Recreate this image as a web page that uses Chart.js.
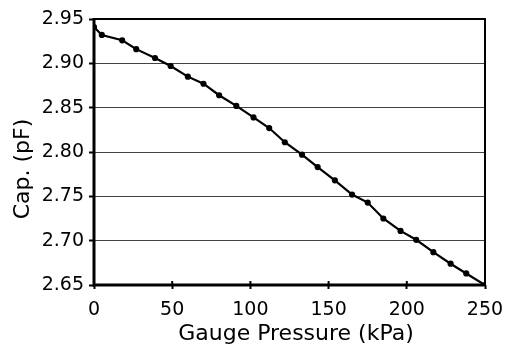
<!DOCTYPE html>
<html>
<head>
<meta charset="utf-8">
<script src="https://cdn.jsdelivr.net/npm/chart.js@4"></script>
<style>
  html, body { margin: 0; padding: 0; background: #fff; }
</style>
</head>
<body>
<canvas id="capChart" width="505" height="344"></canvas>
<script>
// gauge pressure (kPa) and capacitance (pF)
const pressure = [0, 5, 18, 27, 39, 49, 60, 70, 80, 91, 102, 112, 122, 133, 143, 154, 165, 175, 185, 196, 206, 217, 228, 238, 250];
const capacitance = [2.941, 2.932, 2.926, 2.916, 2.906, 2.897, 2.885, 2.877, 2.864, 2.852, 2.839, 2.827, 2.811, 2.797, 2.783, 2.768, 2.752, 2.743, 2.725, 2.711, 2.701, 2.687, 2.674, 2.663, 2.650];
const xTicks = [0, 50, 100, 150, 200, 250];
const yTicks = [2.65, 2.70, 2.75, 2.80, 2.85, 2.90, 2.95];
const xTitle = 'Gauge Pressure (kPa)';
const yTitle = 'Cap. (pF)';

const fontName = "'DejaVu Sans', sans-serif";

const points = [];
for (let i = 0; i < pressure.length; i++) {
  points.push({ x: pressure[i], y: capacitance[i] });
}

// frame round the plot area + axis titles
const framePlugin = {
  id: 'frame',
  afterDraw: (chart) => {
    const { ctx, chartArea } = chart;
    const { left, right, top, bottom } = chartArea;
    ctx.save();
    ctx.strokeStyle = '#000';
    ctx.lineWidth = 2;
    ctx.beginPath();
    ctx.moveTo(left, top);
    ctx.lineTo(right, top);
    ctx.lineTo(right, bottom);
    ctx.stroke();
    ctx.lineWidth = 3;
    ctx.beginPath();
    ctx.moveTo(left, top - 1);
    ctx.lineTo(left, bottom);
    ctx.lineTo(right + 1, bottom);
    ctx.stroke();

    // x tick marks cross the bottom axis a little
    ctx.lineWidth = 2;
    xTicks.forEach((v) => {
      const px = chart.scales.x.getPixelForValue(v);
      ctx.beginPath();
      ctx.moveTo(px, bottom - 4);
      ctx.lineTo(px, bottom);
      ctx.stroke();
    });

    ctx.fillStyle = '#000';
    ctx.font = '22px ' + fontName;
    ctx.textAlign = 'center';
    ctx.textBaseline = 'alphabetic';
    ctx.fillText(xTitle, 296, 340);
    ctx.translate(29, 169);
    ctx.rotate(-Math.PI / 2);
    ctx.fillText(yTitle, 0, 0);
    ctx.restore();
  }
};

new Chart(document.getElementById('capChart'), {
  type: 'line',
  data: {
    datasets: [{
      data: points,
      borderColor: '#000',
      backgroundColor: '#000',
      borderWidth: 2.2,
      pointRadius: 2,
      pointStyle: 'circle',
      tension: 0
    }]
  },
  options: {
    responsive: false,
    animation: false,
    layout: { padding: { top: 19, right: 20, left: 0, bottom: 0 } },
    plugins: { legend: { display: false }, tooltip: { enabled: false } },
    scales: {
      x: {
        type: 'linear',
        min: 0,
        max: 250,
        afterBuildTicks: (scale) => { scale.ticks = xTicks.map(v => ({ value: v })); },
        afterFit: (scale) => { scale.height = 59; scale.paddingLeft = 0; scale.paddingRight = 0; },
        border: { display: false },
        grid: { drawOnChartArea: false, tickLength: 4, tickColor: '#000', tickWidth: 2 },
        ticks: { color: '#000', padding: 10, maxRotation: 0, font: { family: fontName, size: 19 } }
      },
      y: {
        min: 2.65,
        max: 2.95,
        afterBuildTicks: (scale) => { scale.ticks = yTicks.map(v => ({ value: v })); },
        afterFit: (scale) => { scale.width = 94; scale.paddingTop = 0; scale.paddingBottom = 0; },
        border: { display: false },
        grid: { color: '#444', lineWidth: 1, tickLength: 5, tickColor: '#000', tickWidth: 2 },
        ticks: {
          color: '#000',
          padding: 5,
          font: { family: fontName, size: 19 },
          callback: (v) => Number(v).toFixed(2)
        }
      }
    }
  },
  plugins: [framePlugin]
});
</script>
</body>
</html>
